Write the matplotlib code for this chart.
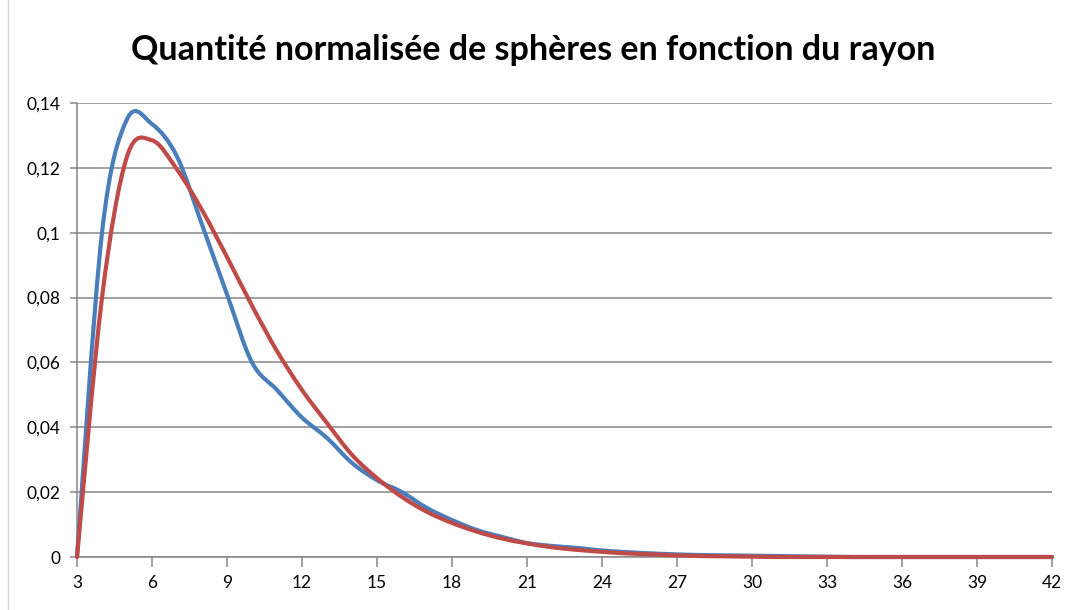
import numpy as np
import matplotlib.pyplot as plt
from matplotlib.path import Path
from matplotlib.patches import PathPatch
from matplotlib.ticker import FuncFormatter

# rayon (categories) and normalised counts for the two distributions
rayon = list(range(3, 43))
serie_bleue = [0.0, 0.100, 0.135, 0.1335, 0.1235, 0.1025, 0.081, 0.060, 0.0515, 0.043,
               0.0367, 0.029, 0.0237, 0.020, 0.0151, 0.0114, 0.0083, 0.0062, 0.0043, 0.0034,
               0.0028, 0.0020, 0.0015, 0.0011, 0.0008, 0.0006, 0.0005, 0.0004, 0.0003, 0.0002,
               0.0001, 0.0, 0.0, 0.0, 0.0, 0.0, 0.0, 0.0, 0.0, 0.0]
serie_rouge = [0.0, 0.080, 0.1235, 0.1285, 0.1195, 0.107, 0.0925, 0.0775, 0.0635, 0.0515,
               0.0413, 0.0315, 0.0243, 0.0185, 0.0139, 0.0105, 0.0078, 0.0057, 0.0042, 0.0030,
               0.0022, 0.0016, 0.0011, 0.0008, 0.0005, 0.0003, 0.0002, 0.0001, 0.0, 0.0,
               0.0, 0.0, 0.0, 0.0, 0.0, 0.0, 0.0, 0.0, 0.0, 0.0]
x_ticks = list(range(3, 43, 3))
y_ticks = [0, 0.02, 0.04, 0.06, 0.08, 0.10, 0.12, 0.14]

BLEU = '#4A7EBB'
ROUGE = '#BE4B48'
GRIS = '#868686'


def smooth_path(xs, ys):
    """Bezier path through the points, Excel-style smoothed line."""
    p = np.column_stack([xs, ys]).astype(float)
    n = len(p)
    verts = [p[0]]
    codes = [Path.MOVETO]
    for i in range(n - 1):
        a = p[i - 1] if i > 0 else p[i]
        d = p[i + 2] if i + 2 < n else p[i + 1]
        c1 = p[i] + (p[i + 1] - a) / 6.0
        c2 = p[i + 1] - (d - p[i]) / 6.0
        verts += [c1, c2, p[i + 1]]
        codes += [Path.CURVE4] * 3
    return Path(verts, codes)


fig = plt.figure(figsize=(10.73, 6.10), dpi=100)
fig.patch.set_facecolor('white')
ax = fig.add_axes([77 / 1073, 53 / 610, 975 / 1073, 454 / 610])

for ys, col in [(serie_bleue, BLEU), (serie_rouge, ROUGE)]:
    ax.add_patch(PathPatch(smooth_path(rayon, ys), facecolor='none',
                           edgecolor=col, lw=3.0, capstyle='round',
                           joinstyle='round', zorder=3, clip_on=False))

ax.set_xlim(3, 42)
ax.set_ylim(0, 0.14)
ax.set_xticks(x_ticks)
ax.set_yticks(y_ticks)
ax.yaxis.set_major_formatter(FuncFormatter(
    lambda v, _: '0' if v == 0 else ('%g' % round(v, 2)).replace('.', ',')))

ax.grid(axis='y', color=GRIS, lw=1.1)
ax.set_axisbelow(True)
for s in ['top', 'right']:
    ax.spines[s].set_visible(False)
for s in ['left', 'bottom']:
    ax.spines[s].set_color(GRIS)
    ax.spines[s].set_linewidth(1.1)
ax.tick_params(axis='both', colors=GRIS, labelcolor='black', labelsize=12.5,
               width=1.1)
ax.tick_params(axis='x', length=7, pad=6)
ax.tick_params(axis='y', length=5, pad=7)
for lab in ax.get_xticklabels() + ax.get_yticklabels():
    lab.set_fontfamily('Lato')

fig.text(0.497, 0.918, 'Quantité normalisée de sphères en fonction du rayon',
         ha='center', va='center', fontsize=24.5, fontweight='bold',
         family='Lato', color='black')

# faint chart-area border on the left
fig.add_artist(plt.Line2D([8 / 1073, 8 / 1073], [0, 1], color='#D9D9D9', lw=1))

fig.savefig('out.png', dpi=100, facecolor='white')
